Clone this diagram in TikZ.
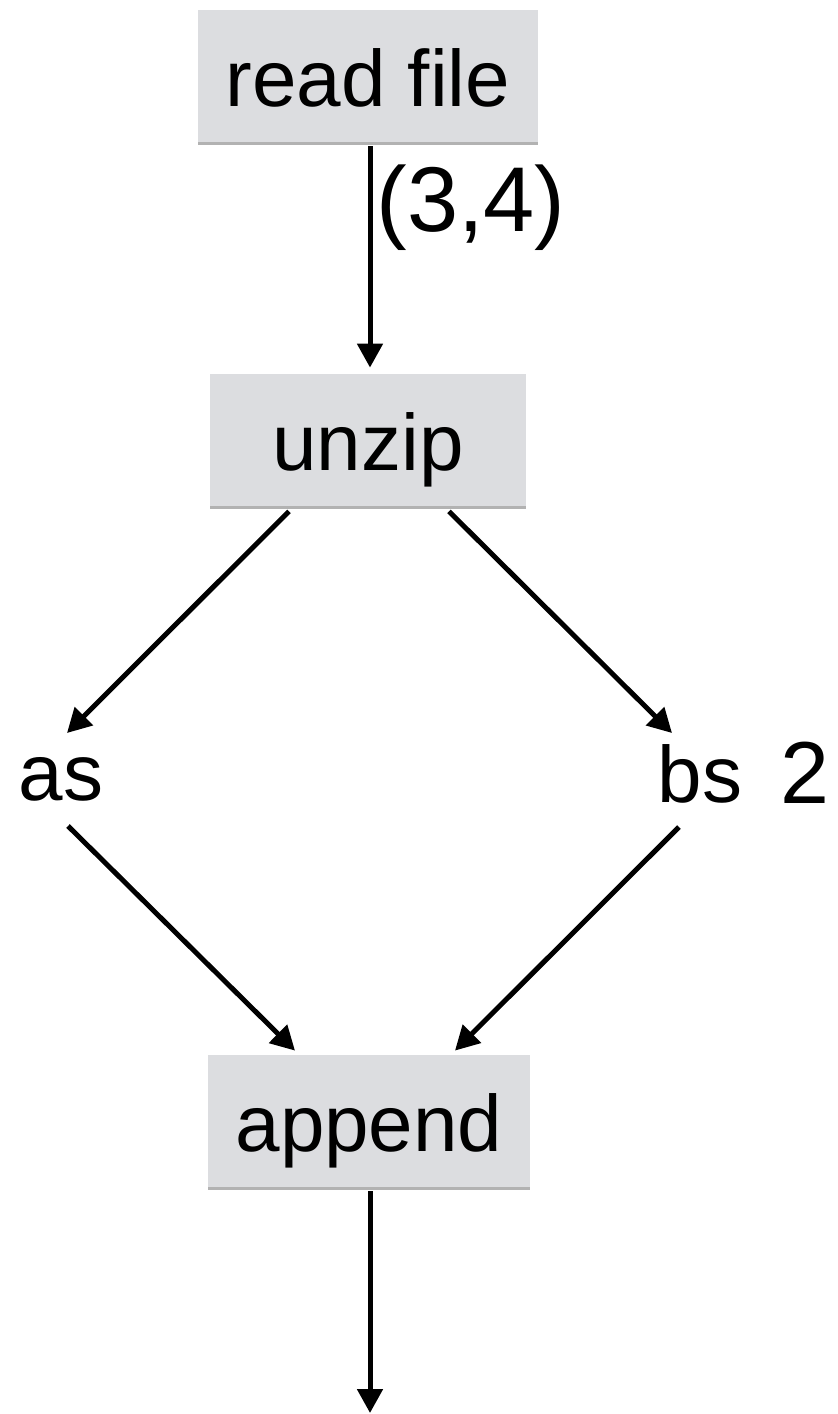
\documentclass[tikz,border=0pt]{standalone}
\usepackage{fontspec}
\setmainfont{Liberation Sans}
\usepackage{xcolor}
\usetikzlibrary{arrows.meta,positioning,shadows}
\definecolor{boxgray}{HTML}{DCDDE0}

\begin{document}
\begin{tikzpicture}[
  x=0.5pt,y=-0.5pt,
  op/.style={fill=boxgray,minimum width=158pt,minimum height=66pt,inner xsep=14pt,
    text height=30pt,text depth=0pt,font=\fontsize{40}{48}\selectfont,
    drop shadow={shadow xshift=0pt,shadow yshift=-1.5pt,fill=black,opacity=0.3}},
  val/.style={anchor=base,inner sep=0pt,font=\fontsize{40}{48}\selectfont},
  note/.style={anchor=base west,inner sep=0pt,font=\fontsize{44}{52}\selectfont},
  arr/.style={-{Triangle[length=12pt,width=12.5pt]},line width=2.5pt}
]
  \useasboundingbox (0,0) rectangle (837,1414);

  \node[op] (read) at (368,76) {read file};
  \node[op] (unzip) at (368,440) {unzip};
  \node[op] (append) at (369,1121) {append};

  \node[val] (as) at (61,800) {as};
  \node[val] (bs) at (700,802) {bs};
  \node[note] (cnt) at (780,803) {2};
  \node[note,font=\fontsize{46}{54}\selectfont] (shape) at (376,231) {(3,4)};
  \coordinate (out) at (370,1413);

  \draw[arr] ([shift={(2,4)}]read.south) -- ([shift={(2,-6)}]unzip.north);
  \draw[arr] ([shift={(-79,5)}]unzip.south) -- ([shift={(6,-67)}]as.base);
  \draw[arr] ([shift={(81,5)}]unzip.south) -- ([shift={(-28,-69)}]bs.base);
  \draw[arr] ([shift={(7,26)}]as.base) -- ([shift={(-74,-4)}]append.north);
  \draw[arr] ([shift={(-21,25)}]bs.base) -- ([shift={(86,-4)}]append.north);
  \draw[arr] ([shift={(1,4)}]append.south) -- (out);
\end{tikzpicture}
\end{document}
